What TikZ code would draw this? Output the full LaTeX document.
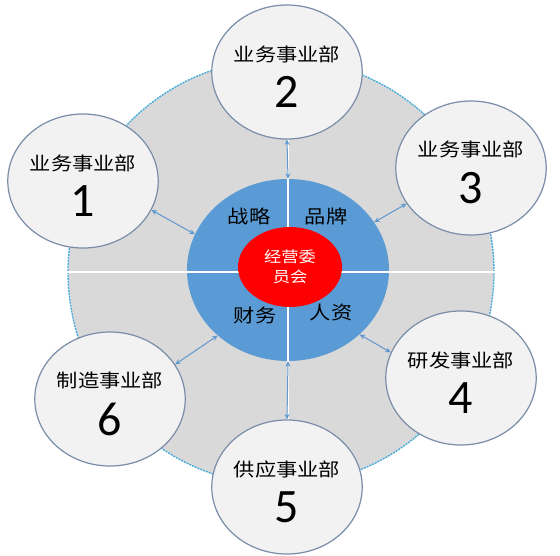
\documentclass[tikz,border=0pt]{standalone}
\usepackage{fontspec}
\newfontfamily\cjkfont{Noto Sans CJK SC}[FakeStretch=1.15]
\newfontfamily\numfont{Carlito}
\usetikzlibrary{shapes.geometric,arrows.meta}

\definecolor{ringgrey}{HTML}{D9D9D9}
\definecolor{ringdots}{HTML}{3FA9D9}
\definecolor{coreblue}{HTML}{5B9BD5}
\definecolor{deptfill}{HTML}{F2F2F2}
\definecolor{deptline}{HTML}{7A8DA8}
\definecolor{linkblue}{HTML}{5F98CF}

% name over number; the strut lifts the top so the block sits a bit low
\newcommand{\deptlabel}[2]{\rule{0pt}{25pt}#1\\[13pt]{\numfont\fontsize{48}{48}\selectfont #2}}

\begin{document}
\begin{tikzpicture}[x=1pt,y=-1pt,
    department/.style ={ellipse, draw=deptline, fill=deptfill, line width=1.2pt,
      minimum width=148pt, minimum height=134pt, inner sep=0pt, align=center,
      font=\cjkfont\fontsize{18.5}{22}\selectfont},
    unit/.style ={inner sep=0pt, font=\cjkfont\fontsize{18.5}{22}\selectfont},
    link/.style ={linkblue, line width=1pt,
      {Stealth[length=5.5pt,width=5pt]}-{Stealth[length=5.5pt,width=5pt]}}]
   \useasboundingbox[fill=white] (0,0) rectangle (560,556);

   % ring and core
   \node[circle, fill=ringgrey, draw=ringdots, line width=1.3pt,
     dash pattern=on 2pt off 1pt, minimum size=426pt] (ring) at (281,272) {};
   \node[ellipse, fill=coreblue, minimum width=202pt, minimum height=182pt] (core) at (288,270) {};
   \draw[white, line width=1.5pt] (ring.west) -- (ring.east);
   \draw[white, line width=1.5pt] (core.center |- ring.north) -- (core.center |- ring.south);
   \node[ellipse, fill=red, minimum width=104pt, minimum height=80pt, inner sep=0pt,
     text=white, align=center, font=\cjkfont\fontsize{15}{20}\selectfont] (board) at (290,267) {经营委\\员会};

   \node[unit] (strategy) at (249,216) {战略};
   \node[unit] (brand)    at (326,216) {品牌};
   \node[unit] (finance)  at (255,315) {财务};
   \node[unit] (hr)       at (331,313) {人资};

   % departments
   \node[department] (d1) at (83,181)  {\deptlabel{业务事业部}{1}};
   \node[department] (d2) at (287,72)  {\deptlabel{业务事业部}{2}};
   \node[department] (d3) at (471,168) {\deptlabel{业务事业部}{3}};
   \node[department] (d4) at (461,378) {\deptlabel{研发事业部}{4}};
   \node[department] (d5) at (287,487) {\deptlabel{供应事业部}{5}};
   \node[department] (d6) at (110,399) {\deptlabel{制造事业部}{6}};

   \draw[link] (d1.-23)  -- (core.159);
   \draw[link] (d2.-90)  -- (core.90);
   \draw[link] (d3.209)  -- (core.29);
   \draw[link] (d4.160)  -- (core.-42);
   \draw[link] (d5.90)   -- (core.-90);
   \draw[link] (d6.28)   -- (core.223);
 \end{tikzpicture}
\end{document}
